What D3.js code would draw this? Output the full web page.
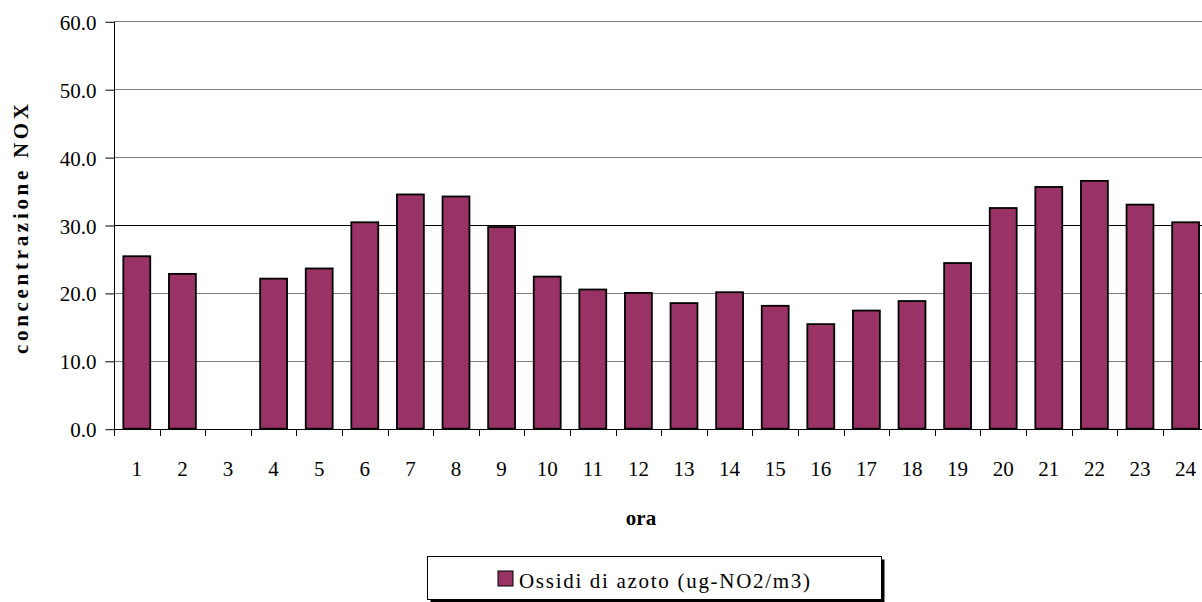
<!DOCTYPE html>
<html>
<head>
<meta charset="utf-8">
<script src="https://cdn.jsdelivr.net/npm/d3@7"></script>
<style>
  html, body { margin: 0; padding: 0; background: #fff; }
  svg { display: block; }
</style>
</head>
<body>
<svg id="chart" width="1202" height="602" font-family="Liberation Serif"></svg>
<script>
// Hourly mean NOx concentration (hour 3 has no data)
const hours = ["1","2","3","4","5","6","7","8","9","10","11","12","13","14","15","16","17","18","19","20","21","22","23","24"];
const nox = [25.4, 22.8, null, 22.1, 23.6, 30.4, 34.5, 34.2, 29.7, 22.4, 20.5, 20.0, 18.5, 20.1, 18.1, 15.4, 17.4, 18.8, 24.4, 32.5, 35.6, 36.5, 33.0, 30.4];
const yTicks = [0, 10, 20, 30, 40, 50, 60];
const seriesName = "Ossidi di azoto (ug-NO2/m3)";
const yTitle = "concentrazione NOX";
const xTitle = "ora";

const FONT = "Liberation Serif";
const FS = 21;
const svg = d3.select("#chart");
const plotLeft = 114, plotRight = 1208.4, plotTop = 21.3, plotBottom = 428.7;

const x = d3.scaleBand().domain(hours).range([plotLeft, plotRight])
  .paddingInner(0.41).paddingOuter(0.205);
const y = d3.scaleLinear().domain([0, 60]).range([plotBottom, plotTop]);
const step = x.step();

// horizontal gridlines (30 drawn as a darker reference line)
svg.append("g").selectAll("line").data(yTicks.filter(d => d > 0)).join("line")
  .attr("x1", plotLeft).attr("x2", 1202)
  .attr("y1", d => Math.round(y(d)) + 0.5).attr("y2", d => Math.round(y(d)) + 0.5)
  .attr("stroke", d => d === 30 ? "#000" : "#808080")
  .attr("stroke-width", 1);

// y axis
const yAxis = d3.axisLeft(y).tickValues(yTicks).tickFormat(d3.format(".1f"))
  .tickSize(9).tickPadding(9);
const gy = svg.append("g").attr("transform", `translate(${plotLeft + 0.5},0.5)`).call(yAxis)
  .attr("font-family", FONT).attr("font-size", FS);
gy.select(".domain").attr("stroke", "#000").attr("d", `M0,${plotTop}V${plotBottom}`);
gy.selectAll(".tick line").attr("stroke", "#000");
gy.selectAll(".tick text")
  .attr("font-family", FONT).attr("font-size", FS)
  .attr("fill", "#000").attr("dy", "0.36em");

// bars
svg.append("g").selectAll("rect").data(hours.map((h, i) => ({h, v: nox[i]})).filter(d => d.v != null))
  .join("rect")
  .attr("x", d => x(d.h))
  .attr("width", x.bandwidth())
  .attr("y", d => y(d.v))
  .attr("height", d => y(0) - y(d.v))
  .attr("fill", "#993366")
  .attr("stroke", "#000")
  .attr("stroke-width", 1.8);

// x axis line and category boundary ticks
const gx = svg.append("g");
gx.append("line").attr("x1", plotLeft).attr("x2", 1202)
  .attr("y1", Math.round(plotBottom) + 0.5).attr("y2", Math.round(plotBottom) + 0.5)
  .attr("stroke", "#000");
gx.selectAll("line.tk").data(hours).join("line").attr("class", "tk")
  .attr("x1", d => Math.round(x(d) - step * 0.205) + 0.5)
  .attr("x2", d => Math.round(x(d) - step * 0.205) + 0.5)
  .attr("y1", Math.round(plotBottom)).attr("y2", Math.round(plotBottom) + 7)
  .attr("stroke", "#000");
gx.selectAll("text").data(hours).join("text")
  .attr("x", d => x(d) + x.bandwidth() / 2)
  .attr("y", 476)
  .attr("text-anchor", "middle")
  .attr("font-family", FONT).attr("font-size", FS)
  .text(d => d);

// axis titles
svg.append("text")
  .attr("transform", `translate(28,${(plotTop + plotBottom) / 2 + 4}) rotate(-90)`)
  .attr("text-anchor", "middle")
  .attr("font-family", FONT).attr("font-size", 21).attr("font-weight", "bold")
  .attr("textLength", 250).attr("lengthAdjust", "spacing")
  .text(yTitle);
svg.append("text")
  .attr("x", 641).attr("y", 525)
  .attr("text-anchor", "middle")
  .attr("font-family", FONT).attr("font-size", 21).attr("font-weight", "bold")
  .text(xTitle);

// legend with drop shadow
const lg = svg.append("g");
lg.append("rect").attr("x", 430.5).attr("y", 559.5).attr("width", 454).attr("height", 43).attr("fill", "#000");
lg.append("rect").attr("x", 427.5).attr("y", 556.5).attr("width", 454).attr("height", 43)
  .attr("fill", "#fff").attr("stroke", "#000");
lg.append("rect").attr("x", 498).attr("y", 571).attr("width", 15).attr("height", 15)
  .attr("fill", "#993366").attr("stroke", "#000");
lg.append("text").attr("x", 519).attr("y", 588)
  .attr("font-family", FONT).attr("font-size", FS)
  .attr("textLength", 291).attr("lengthAdjust", "spacing")
  .text(seriesName);
</script>
</body>
</html>
